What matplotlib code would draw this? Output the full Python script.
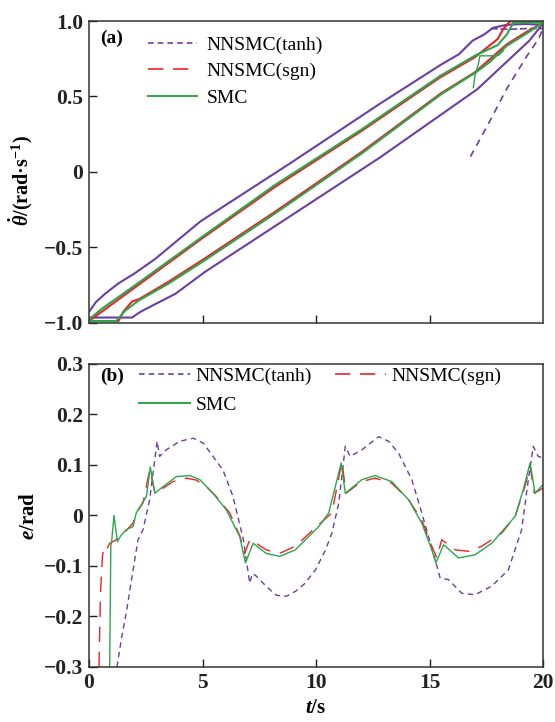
import matplotlib
matplotlib.use('Agg')
import matplotlib.pyplot as plt
from matplotlib.lines import Line2D

plt.rcParams['font.family'] = ['Liberation Serif', 'DejaVu Serif']
plt.rcParams['mathtext.fontset'] = 'custom'
plt.rcParams['mathtext.it'] = 'Liberation Serif:italic:bold'
plt.rcParams['mathtext.rm'] = 'Liberation Serif:bold'
plt.rcParams['mathtext.bf'] = 'Liberation Serif:bold'
plt.rcParams['lines.scale_dashes'] = False

purple = '#6a3fa5'
red = '#ee2226'
green = '#2aa64c'

# ---- (a) phase plane: theta vs theta_dot ----
tanh_up_x = [-1.0, -0.97, -0.93, -0.87, -0.80, -0.71, -0.51, -0.12, 0.28, 0.55, 0.63, 0.69, 0.74, 0.78, 0.84, 0.92, 1.0]
tanh_up_y = [-0.93, -0.865, -0.81, -0.74, -0.675, -0.58, -0.33, 0.05, 0.45, 0.71, 0.78, 0.87, 0.91, 0.955, 0.975, 0.98, 0.975]
tanh_low_x = [-1.0, -0.81, -0.775, -0.72, -0.62, -0.49, -0.18, 0.28, 0.71, 0.94, 0.99]
tanh_low_y = [-0.967, -0.967, -0.93, -0.887, -0.81, -0.665, -0.36, 0.093, 0.547, 0.87, 0.965]
tanh_init_x = [0.68, 0.76, 0.84, 0.93, 0.98, 1.0]
tanh_init_y = [0.10, 0.32, 0.55, 0.77, 0.88, 0.95]
tanh_top_x = [0.77, 0.85, 0.93, 1.0]
tanh_top_y = [0.95, 0.945, 0.95, 0.95]

sgn_up_x = [-1.0, -0.80, -0.5, -0.18, 0.2, 0.546, 0.70, 0.80, 0.825, 0.855, 0.93, 0.99]
sgn_up_y = [-0.99, -0.77, -0.44, -0.10, 0.27, 0.625, 0.76, 0.88, 0.947, 0.998, 0.998, 0.995]
sgn_low_x = [-1.0, -0.87, -0.85, -0.81, -0.78, -0.65, -0.49, -0.18, 0.2, 0.55, 0.70, 0.84, 0.93, 0.99]
sgn_low_y = [-0.99, -0.99, -0.93, -0.86, -0.845, -0.73, -0.575, -0.265, 0.13, 0.52, 0.66, 0.845, 0.93, 0.98]

smc_up_x = [-1.0, -0.944, -0.797, -0.5, -0.18, 0.2, 0.546, 0.70, 0.80, 0.84, 0.87, 0.93, 0.99]
smc_up_y = [-0.98, -0.909, -0.753, -0.43, -0.087, 0.28, 0.635, 0.77, 0.84, 0.91, 0.99, 0.99, 0.99]
smc_low_x = [-1.0, -0.88, -0.84, -0.78, -0.65, -0.49, -0.18, 0.2, 0.55, 0.70, 0.767, 0.84, 0.92, 0.99]
smc_low_y = [-0.99, -0.99, -0.92, -0.853, -0.742, -0.587, -0.276, 0.12, 0.513, 0.655, 0.73, 0.835, 0.91, 0.98]
smc_init_x = [0.693, 0.70, 0.715, 0.722, 0.767, 0.803, 0.825]
smc_init_y = [0.558, 0.635, 0.713, 0.769, 0.769, 0.772, 0.802]

# ---- (b) tracking error ----
t_tanh = [1.23, 1.42, 1.64, 1.94, 2.16, 2.38, 2.67, 3.0, 3.11, 3.4, 4.0, 4.6, 5.04, 5.46, 5.9, 6.34, 6.8,
          7.08, 7.2, 7.37, 7.8, 8.25, 8.7, 9.1, 9.5, 9.97, 10.4, 10.7, 11.0, 11.29, 11.5, 12.02, 12.76, 13.2,
          13.64, 14.22, 14.66, 15.25, 15.47, 15.84, 16.42, 17.0, 17.74, 18.47, 19.06, 19.35, 19.57, 19.79, 20.0]
e_tanh = [-0.3, -0.246, -0.193, -0.108, -0.048, -0.028, 0.031, 0.147, 0.117, 0.13, 0.147, 0.153, 0.143, 0.117,
          0.09, 0.038, -0.048, -0.134, -0.115, -0.12, -0.14, -0.158, -0.16, -0.15, -0.135, -0.108, -0.07,
          -0.035, 0.024, 0.137, 0.117, 0.13, 0.156, 0.147, 0.123, 0.071, 0.005, -0.088, -0.124, -0.127,
          -0.154, -0.157, -0.14, -0.108, -0.028, 0.07, 0.137, 0.117, 0.114]

t_sgn = [0.44, 0.5, 0.59, 0.65, 0.75, 0.91, 1.13, 1.4, 1.64, 1.94, 2.08, 2.38, 2.67, 2.75, 2.9, 3.26, 3.7,
         4.29, 4.73, 5.17, 5.6, 6.2, 6.64, 6.86, 7.08, 7.37, 7.8, 8.4, 9.09, 10.12, 10.7, 11.14, 11.32, 12.0,
         12.6, 13.34, 14.08, 14.66, 15.1, 15.32, 15.54, 16.13, 16.72, 17.3, 18.18, 18.77, 19.2, 19.43, 19.62, 20.0]
e_sgn = [-0.3, -0.16, -0.081, -0.065, -0.07, -0.055, -0.05, -0.04, -0.03, -0.015, 0.005, 0.025, 0.09, 0.077,
         0.045, 0.054, 0.067, 0.074, 0.07, 0.057, 0.038, 0.005, -0.04, -0.075, -0.048, -0.055, -0.068,
         -0.075, -0.061, -0.018, 0.005, 0.107, 0.044, 0.067, 0.074, 0.064, 0.031, -0.009, -0.061, -0.084,
         -0.048, -0.068, -0.071, -0.061, -0.035, -0.002, 0.057, 0.097, 0.044, 0.054]

t_smc = [0.91, 0.96, 1.0, 1.1, 1.25, 1.4, 1.64, 1.94, 2.08, 2.53, 2.7, 2.9, 3.26, 3.85, 4.44, 4.88, 5.46,
         6.05, 6.64, 6.89, 7.23, 7.8, 8.4, 9.09, 10.12, 10.56, 11.11, 11.29, 12.02, 12.6, 13.34, 14.08,
         14.66, 15.1, 15.28, 15.62, 16.28, 17.0, 17.74, 18.77, 19.13, 19.43, 19.65, 20.0]
e_smc = [-0.3, -0.06, -0.05, 0.0, -0.052, -0.04, -0.028, -0.022, 0.005, 0.038, 0.096, 0.044, 0.057, 0.077,
         0.079, 0.071, 0.044, 0.011, -0.042, -0.094, -0.055, -0.075, -0.081, -0.068, -0.022, 0.005, 0.104,
         0.044, 0.071, 0.079, 0.067, 0.031, -0.015, -0.068, -0.094, -0.058, -0.084, -0.078, -0.055, -0.002,
         0.051, 0.104, 0.044, 0.061]

labels = ['NNSMC(tanh)', 'NNSMC(sgn)', 'SMC']
yticks_a = [-1.0, -0.5, 0, 0.5, 1.0]
yticklabels_a = ['\u22121.0', '\u22120.5', '0', '0.5', '1.0']
xticks_a = [-0.5, 0, 0.5]
yticks_b = [-0.3, -0.2, -0.1, 0, 0.1, 0.2, 0.3]
yticklabels_b = ['\u22120.3', '\u22120.2', '\u22120.1', '0', '0.1', '0.2', '0.3']
xticks_b = [0, 5, 10, 15, 20]

fig = plt.figure(figsize=(5.55, 7.22), dpi=100)
ax1 = fig.add_axes([0.1604, 0.5533, 0.818, 0.4176])
ax2 = fig.add_axes([0.1604, 0.0762, 0.818, 0.4197])

lw_a = 1.5
ax1.plot(tanh_up_x, tanh_up_y, color=purple, lw=lw_a)
ax1.plot(tanh_low_x, tanh_low_y, color=purple, lw=lw_a)
ax1.plot(tanh_init_x, tanh_init_y, color=purple, lw=1.2, dashes=(5, 4))
ax1.plot(tanh_top_x, tanh_top_y, color=purple, lw=1.2, dashes=(5, 2))
ax1.plot(sgn_up_x, sgn_up_y, color=red, lw=lw_a)
ax1.plot(sgn_low_x, sgn_low_y, color=red, lw=lw_a)
ax1.plot(smc_up_x, smc_up_y, color=green, lw=lw_a)
ax1.plot(smc_low_x, smc_low_y, color=green, lw=lw_a)
ax1.plot(smc_init_x, smc_init_y, color=green, lw=1.0)

ax1.set_xlim(-1, 1)
ax1.set_ylim(-1, 1)
ax1.set_xticks(xticks_a)
ax1.set_xticklabels([])
ax1.set_yticks(yticks_a)
ax1.set_yticklabels(yticklabels_a)
ax1.set_ylabel('$\\dot{\\theta}$/(rad\u00b7s$^{-1}$)', fontsize=14.5, fontweight='bold')
ax1.yaxis.set_label_coords(-0.12, 0.47)
ax1.text(0.024, 0.942, '(a)', transform=ax1.transAxes, fontsize=14, fontweight='bold', va='center')

ax2.plot(t_tanh, e_tanh, color=purple, lw=1.0, dashes=(4, 3))
ax2.plot(t_sgn, e_sgn, color=red, lw=1.0, dashes=(11, 7))
ax2.plot(t_smc, e_smc, color=green, lw=1.0)
ax2.set_xlim(0, 20)
ax2.set_ylim(-0.3, 0.3)
ax2.set_xticks(xticks_b)
ax2.set_yticks(yticks_b)
ax2.set_yticklabels(yticklabels_b)
ax2.set_xlabel('$t$/s', fontsize=15, fontweight='bold', labelpad=4)
ax2.set_ylabel('$e$/rad', fontsize=15, fontweight='bold', labelpad=4)
ax2.text(0.024, 0.96, '(b)', transform=ax2.transAxes, fontsize=14, fontweight='bold', va='center')

for ax in (ax1, ax2):
    for s in ax.spines.values():
        s.set_linewidth(1.1)
        s.set_color('#333333')
    ax.tick_params(direction='in', length=6, width=1.0, top=False, right=False,
                   labelsize=15.5, colors='#222222', pad=4)
    for lab in ax.get_xticklabels() + ax.get_yticklabels():
        lab.set_fontweight('bold')

h_tanh = Line2D([0], [0], color=purple, lw=1.2, dashes=(4, 3))
h_sgn = Line2D([0], [0], color=red, lw=1.2, dashes=(11, 7))
h_smc = Line2D([0], [0], color=green, lw=1.4)

ax1.legend([h_tanh, h_sgn, h_smc], labels, loc='upper left', bbox_to_anchor=(0.13, 0.95),
           frameon=False, fontsize=14, handlelength=2.5, handletextpad=0.5, labelspacing=0.45,
           borderpad=0, borderaxespad=0)
ax2.legend([h_tanh, h_smc, h_sgn], [labels[0], labels[2], labels[1]], ncol=2, loc='upper left',
           bbox_to_anchor=(0.11, 0.99), frameon=False, fontsize=14, handlelength=2.6,
           handletextpad=0.3, labelspacing=0.6, columnspacing=1.2, borderpad=0, borderaxespad=0)

fig.savefig('out.png', dpi=100)
